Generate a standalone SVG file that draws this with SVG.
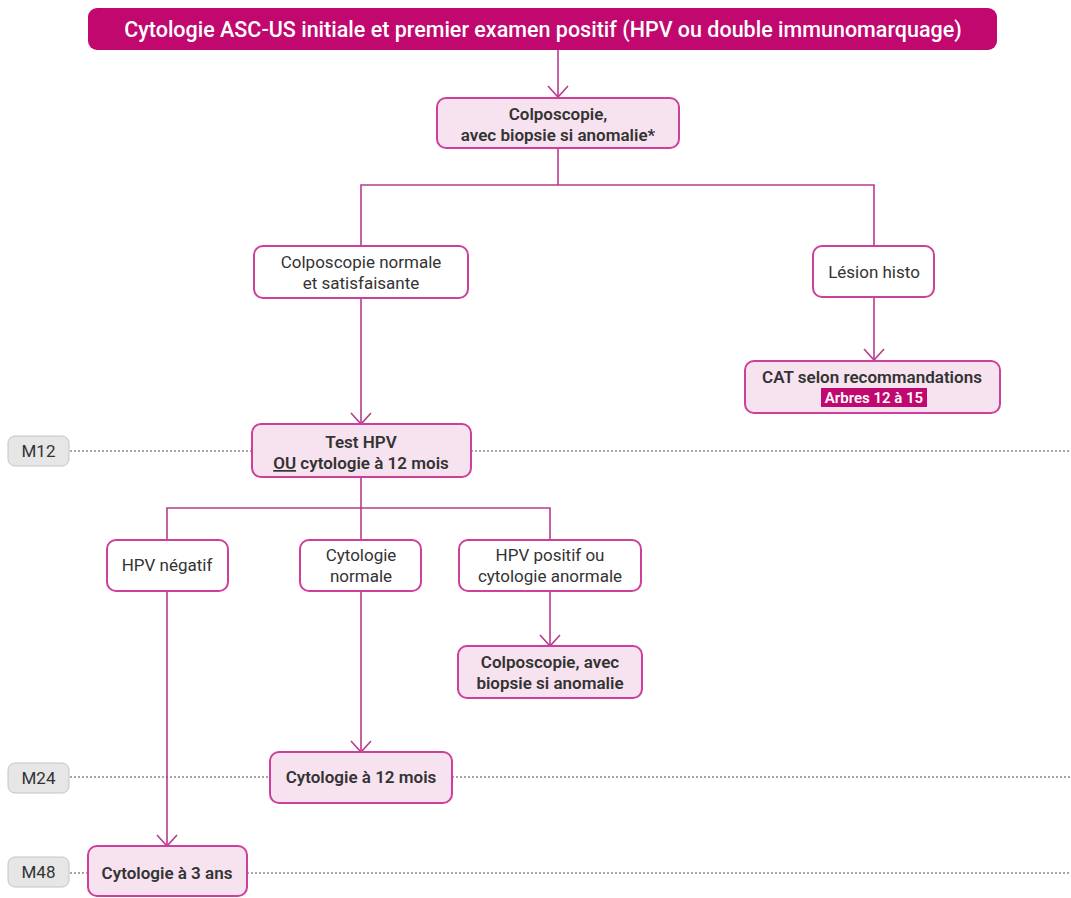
<svg xmlns="http://www.w3.org/2000/svg" width="1071" height="898" viewBox="0 0 1071 898">
<defs>
<style>
.t{font-family:Roboto,"Liberation Sans",sans-serif;font-size:17px;fill:#333;text-anchor:middle}
.b{font-weight:600}
.wbox{fill:#fff;stroke:#CC3F9A;stroke-width:2}
.pbox{fill:#F7E2EF;stroke:#CC3F9A;stroke-width:2}
.mbox{fill:#E6E6E6;stroke:#C4C4C4;stroke-width:1}
.con{fill:none;stroke:#B93A8C;stroke-width:1.6}
.dot{fill:none;stroke:#888;stroke-width:1.3;stroke-dasharray:2 2}
</style>
<marker id="arr" markerUnits="userSpaceOnUse" markerWidth="26" markerHeight="26" viewBox="-13 -13 26 26" refX="0" refY="0" orient="auto" overflow="visible">
<path d="M-11,-10 L0,0 L-11,10" fill="none" stroke="#B93A8C" stroke-width="1.6"/>
</marker>
</defs>
<rect width="1071" height="898" fill="#fff"/>
<g id="timeline">
<line class="dot" x1="70" y1="451" x2="252" y2="451"/>
<line class="dot" x1="471" y1="451" x2="1071" y2="451"/>
<line class="dot" x1="70" y1="777" x2="270" y2="777"/>
<line class="dot" x1="452" y1="777" x2="1071" y2="777"/>
<line class="dot" x1="70" y1="873" x2="88" y2="873"/>
<line class="dot" x1="247" y1="873" x2="1071" y2="873"/>
</g>
<g id="connectors">
<line class="con" x1="558" y1="50" x2="558" y2="97" marker-end="url(#arr)"/>
<polyline class="con" points="558,148 558,185"/>
<polyline class="con" points="361,246 361,185 874,185 874,246"/>
<line class="con" x1="361" y1="298" x2="361" y2="424" marker-end="url(#arr)"/>
<line class="con" x1="874" y1="297" x2="874" y2="360" marker-end="url(#arr)"/>
<polyline class="con" points="361,477 361,508"/>
<polyline class="con" points="167,540 167,508 550,508 550,540"/>
<line class="con" x1="361" y1="508" x2="361" y2="540"/>
<line class="con" x1="550" y1="591" x2="550" y2="646" marker-end="url(#arr)"/>
<line class="con" x1="361" y1="591" x2="361" y2="752" marker-end="url(#arr)"/>
<line class="con" x1="167" y1="591" x2="167" y2="846" marker-end="url(#arr)"/>
</g>
<g id="title">
<rect x="88" y="8" width="909" height="42" rx="9" fill="#C0086F"/>
<text x="543" y="37" style="font-family:Roboto,'Liberation Sans',sans-serif;font-size:21.5px;font-weight:500;fill:#fff;text-anchor:middle">Cytologie ASC-US initiale et premier examen positif (HPV ou double immunomarquage)</text>
</g>
<g id="colposcopie">
<rect class="pbox" x="437" y="98" width="242" height="50" rx="9"/>
<text class="t b" x="558" y="120">Colposcopie,</text>
<text class="t b" x="558" y="141">avec biopsie si anomalie*</text>
</g>
<g id="colpo-normale">
<rect class="wbox" x="254" y="246" width="214" height="52" rx="9"/>
<text class="t" x="361" y="268">Colposcopie normale</text>
<text class="t" x="361" y="289">et satisfaisante</text>
</g>
<g id="lesion">
<rect class="wbox" x="813" y="246" width="121" height="51" rx="9"/>
<text class="t" x="874" y="278">Lésion histo</text>
</g>
<g id="cat">
<rect class="pbox" x="745" y="361" width="255" height="52" rx="9"/>
<text class="t b" x="872" y="383">CAT selon recommandations</text>
<rect x="821" y="388" width="106" height="19" fill="#C0086F"/>
<text class="t b" x="874" y="403" style="fill:#fff;font-size:15px">Arbres 12 à 15</text>
</g>
<g id="m12">
<rect class="mbox" x="8" y="436" width="61" height="30" rx="7"/>
<text class="t" x="38.5" y="457">M12</text>
</g>
<g id="test-hpv">
<rect class="pbox" x="252" y="424" width="219" height="53" rx="9"/>
<text class="t b" x="361" y="448">Test HPV</text>
<text class="t b" x="361" y="469"><tspan text-decoration="underline">OU</tspan> cytologie à 12 mois</text>
</g>
<g id="hpv-negatif">
<rect class="wbox" x="107" y="540" width="121" height="51" rx="9"/>
<text class="t" x="167" y="571">HPV négatif</text>
</g>
<g id="cyto-normale">
<rect class="wbox" x="300" y="540" width="121" height="51" rx="9"/>
<text class="t" x="361" y="561">Cytologie</text>
<text class="t" x="361" y="582">normale</text>
</g>
<g id="hpv-positif">
<rect class="wbox" x="459" y="540" width="182" height="51" rx="9"/>
<text class="t" x="550" y="561">HPV positif ou</text>
<text class="t" x="550" y="582">cytologie anormale</text>
</g>
<g id="colpo-biopsie">
<rect class="pbox" x="458" y="646" width="184" height="52" rx="9"/>
<text class="t b" x="550" y="668">Colposcopie, avec</text>
<text class="t b" x="550" y="689">biopsie si anomalie</text>
</g>
<g id="m24">
<rect class="mbox" x="8" y="763" width="61" height="30" rx="7"/>
<text class="t" x="38.5" y="784">M24</text>
</g>
<g id="cyto-12">
<rect class="pbox" x="270" y="752" width="182" height="51" rx="9"/>
<text class="t b" x="361" y="783">Cytologie à 12 mois</text>
</g>
<g id="m48">
<rect class="mbox" x="8" y="857" width="61" height="30" rx="7"/>
<text class="t" x="38.5" y="878">M48</text>
</g>
<g id="cyto-3ans">
<rect class="pbox" x="88" y="846" width="159" height="50" rx="9"/>
<text class="t b" x="167" y="879">Cytologie à 3 ans</text>
</g>
</svg>
